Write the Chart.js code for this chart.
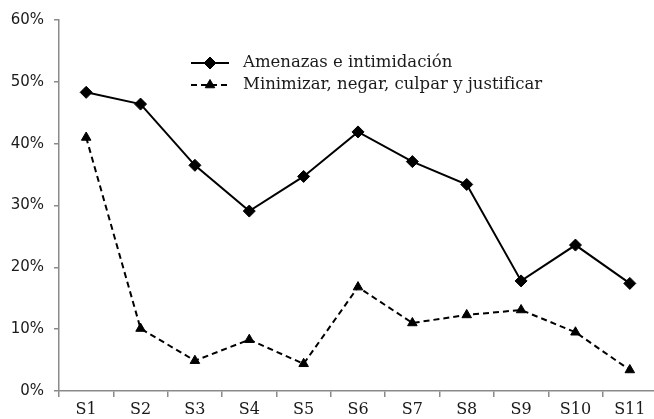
<!DOCTYPE html>
<html lang="es">
<head>
    <meta charset="UTF-8">
    <title>Amenazas y minimización por sesión</title>
    <script src="https://cdn.jsdelivr.net/npm/chart.js"></script>
    <style>
        html, body {
            margin: 0;
            padding: 0;
            background: #fff;
            overflow: hidden;
        }
        .chart-container {
            position: relative;
            width: 664px;
            height: 419px;
        }
    </style>
</head>
<body>
    <div class="chart-container">
        <canvas id="sessions-chart"></canvas>
    </div>

    <script>
        // Sessions and percentages
        const sessions = ["S1", "S2", "S3", "S4", "S5", "S6", "S7", "S8", "S9", "S10", "S11"];
        const amenazas = [48.3, 46.4, 36.5, 29.1, 34.7, 41.9, 37.1, 33.4, 17.8, 23.6, 17.4];
        const minimizar = [41.0, 10.1, 4.9, 8.3, 4.4, 16.8, 11.0, 12.3, 13.1, 9.5, 3.4];
        const yTicks = [0, 10, 20, 30, 40, 50, 60];

        const seriesLabels = ["Amenazas e intimidación", "Minimizar, negar, culpar y justificar"];

        const serifFont = "'DejaVu Serif', serif";
        const sansFont = "'DejaVu Sans', sans-serif";
        const axisGray = "#8a8a8a";

        // Legend drawn inside the plot, like the original figure
        const insideLegend = {
            id: "insideLegend",
            afterDraw(chart) {
                const ctx = chart.ctx;
                const x0 = 191, x1 = 229, textX = 243;
                const rows = [63, 85];
                chart.data.datasets.forEach((ds, i) => {
                    const y = rows[i];
                    ctx.save();
                    ctx.strokeStyle = ds.borderColor;
                    ctx.lineWidth = ds.borderWidth;
                    ctx.setLineDash(ds.borderDash || []);
                    ctx.beginPath();
                    ctx.moveTo(x0, y);
                    ctx.lineTo(x1, y);
                    ctx.stroke();
                    ctx.setLineDash([]);
                    ctx.fillStyle = ds.pointBackgroundColor;
                    ctx.strokeStyle = ds.pointBorderColor;
                    ctx.lineWidth = 1;
                    Chart.helpers.drawPoint(ctx, {
                        pointStyle: ds.pointStyle,
                        radius: ds.pointRadius,
                        rotation: 0,
                        borderWidth: 1
                    }, (x0 + x1) / 2, y);
                    ctx.fillStyle = "#1a1a1a";
                    ctx.font = "16.5px " + serifFont;
                    ctx.textBaseline = "middle";
                    ctx.fillText(ds.label, textX, y);
                    ctx.restore();
                });
            }
        };

        const ctx = document.getElementById("sessions-chart").getContext("2d");
        new Chart(ctx, {
            type: "line",
            data: {
                labels: sessions,
                datasets: [{
                    label: seriesLabels[0],
                    data: amenazas,
                    borderColor: "#000",
                    borderWidth: 2,
                    pointStyle: "rectRot",
                    pointRadius: 6,
                    pointBackgroundColor: "#000",
                    pointBorderColor: "#000",
                    pointBorderWidth: 1,
                    tension: 0
                }, {
                    label: seriesLabels[1],
                    data: minimizar,
                    borderColor: "#000",
                    borderWidth: 2,
                    borderDash: [6, 4],
                    pointStyle: "triangle",
                    pointRadius: 5.5,
                    pointBackgroundColor: "#000",
                    pointBorderColor: "#000",
                    pointBorderWidth: 1,
                    tension: 0
                }]
            },
            options: {
                responsive: true,
                maintainAspectRatio: false,
                animation: false,
                layout: {
                    padding: { left: 0, right: 4, top: 20, bottom: 0 }
                },
                plugins: {
                    legend: { display: false },
                    tooltip: { enabled: false }
                },
                scales: {
                    x: {
                        offset: true,
                        grid: {
                            offset: true,
                            drawOnChartArea: false,
                            color: axisGray,
                            tickLength: 6,
                            lineWidth: 1.5
                        },
                        border: { color: axisGray, width: 1.5 },
                        ticks: {
                            color: "#1a1a1a",
                            padding: 3,
                            font: { family: serifFont, size: 16 },
                            maxRotation: 0,
                            autoSkip: false
                        },
                        afterFit(scale) { scale.height = 28; }
                    },
                    y: {
                        min: 0,
                        max: 60,
                        afterBuildTicks(scale) {
                            scale.ticks = yTicks.map(v => ({ value: v }));
                        },
                        grid: {
                            drawOnChartArea: false,
                            color: axisGray,
                            tickLength: 5,
                            lineWidth: 1.5
                        },
                        border: { color: axisGray, width: 1.5 },
                        ticks: {
                            color: "#1a1a1a",
                            padding: 10,
                            font: { family: sansFont, size: 15 },
                            callback: v => v + "%"
                        },
                        afterFit(scale) { scale.width = 59; }
                    }
                }
            },
            plugins: [insideLegend]
        });
    </script>
</body>
</html>
